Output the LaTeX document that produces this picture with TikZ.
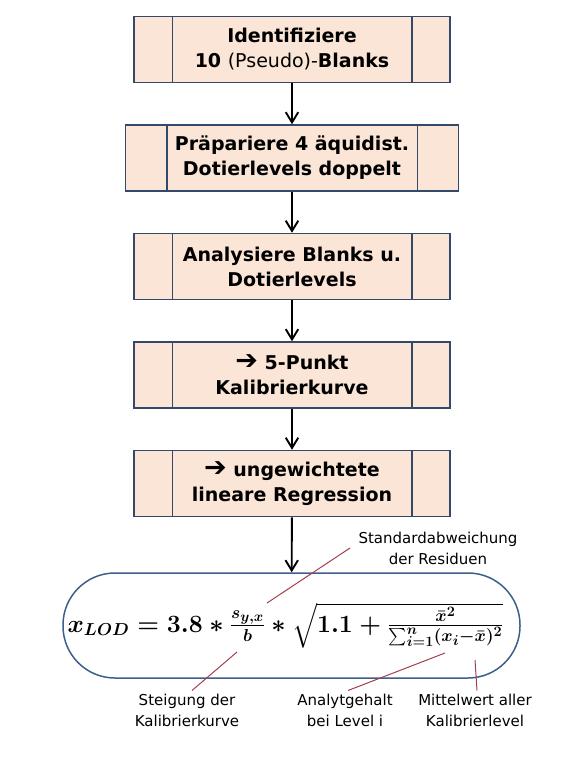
\documentclass[tikz,border=0pt]{standalone}
\usepackage{amsmath}
\usepackage[no-math]{fontspec}
\setmainfont{DejaVu Sans}
\usepackage{xcolor}
\usepackage{tikz}
\usetikzlibrary{positioning,arrows.meta}
\definecolor{peach}{HTML}{FBE5D6}
\definecolor{framecol}{HTML}{34496A}
\definecolor{ringcol}{HTML}{3D5F8C}
\definecolor{callout}{HTML}{A3404C}
\DeclareMathSizes{23.5}{23.5}{17.6}{13.7}
\newcommand{\bigarrow}{{\fontsize{27}{25}\selectfont ➔}}
\newsavebox{\lodbox}

\begin{document}
\sbox{\lodbox}{\fontsize{23.5}{30}\selectfont\boldmath
  $x_{LOD}=\mathbf{3.8}*\frac{s_{y,x}}{b}*\sqrt{\mathbf{1.1}+\frac{\bar{x}^2}{\sum_{i=1}^{n}(x_i-\bar{x})^2}}$}
\begin{tikzpicture}[x=1pt, y=-1pt,
  stepbox/.style={draw=framecol, line width=1.5pt, fill=peach, minimum width=316pt,
                  minimum height=66pt, inner sep=2pt, align=center,
                  font=\fontsize{19}{25}\selectfont\bfseries},
  arr/.style={-{Straight Barb[length=3.6mm, width=4.4mm]}, line width=1.9pt},
  note/.style={font=\fontsize{15}{21}\selectfont, align=center, inner sep=1pt},
  pin/.style={draw=callout, line width=1pt}]
\useasboundingbox (0,0) rectangle (580,773);
\node[stepbox] (s1) at (292,49.5) {Identifiziere\\ 10 \textmd{(Pseudo)-}Blanks};
\node[stepbox, below=41pt of s1, minimum width=333pt] (s2) {Präpariere 4 äquidist.\\ Dotierlevels doppelt};
\node[stepbox, below=41pt of s2] (s3) {Analysiere Blanks u.\\ Dotierlevels};
\node[stepbox, below=41pt of s3] (s4) {\bigarrow\ 5-Punkt\\ Kalibrierkurve};
\node[stepbox, below=41pt of s4] (s5) {\bigarrow\ ungewichtete\\ lineare Regression};
\node[draw=ringcol, line width=1.5pt, rounded corners=52pt, minimum width=457pt,
      minimum height=105pt, inner sep=0pt] (lod) at (291.5,625.5) {\usebox{\lodbox}\hspace*{12pt}};
% side panels
\foreach \b/\w in {s1/39, s2/42, s3/39, s4/39, s5/39} {
  \draw[framecol, line width=1.5pt] ([xshift=\w pt]\b.north west) -- ([xshift=\w pt]\b.south west);
  \draw[framecol, line width=1.5pt] ([xshift=-\w pt]\b.north east) -- ([xshift=-\w pt]\b.south east);
}
\draw[arr] (s1) -- (s2);
\draw[arr] (s2) -- (s3);
\draw[arr] (s3) -- (s4);
\draw[arr] (s4) -- (s5);
\draw[arr] (s5) -- (lod);
% callouts
\node[note] (sd) at (438,548) {Standardabweichung\\ der Residuen};
\node[note] (slope) at (187,710) {Steigung der\\ Kalibrierkurve};
\node[note] (xi) at (345,710) {Analytgehalt\\ bei Level i};
\node[note] (mean) at (475,710) {Mittelwert aller\\ Kalibrierlevel};
\coordinate (psd) at (267,603);
\coordinate (pb) at (237,652);
\coordinate (pxi) at (445,653);
\coordinate (pmean) at (475,660);
\draw[pin] (350,548) -- (psd);
\draw[pin] (slope.north) ++(5,-2) -- (pb);
\draw[pin] (xi.north) ++(3,-2) -- (pxi);
\draw[pin] (mean.north) ++(2,-2) -- (pmean);
\end{tikzpicture}
\end{document}
